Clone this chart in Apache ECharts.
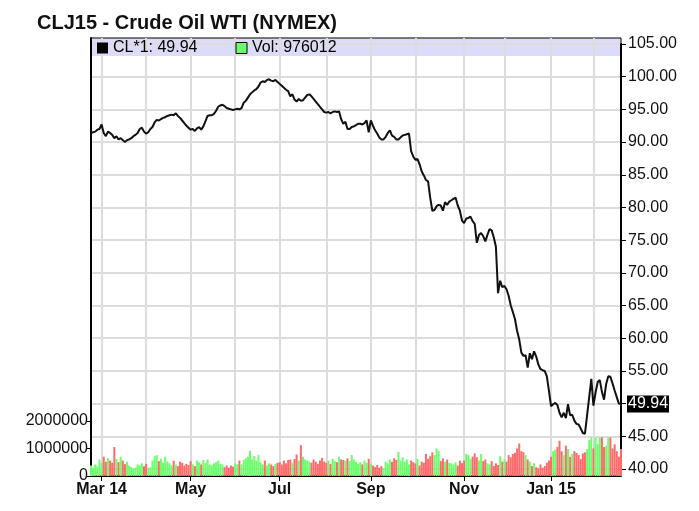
<!DOCTYPE html>
<html>
<head>
<meta charset="utf-8">
<script src="https://cdn.jsdelivr.net/npm/echarts@6/dist/echarts.min.js"></script>
<style>
html, body { margin: 0; padding: 0; background: #fff; }
#chart { width: 699px; height: 511px; }
</style>
</head>
<body>
<div id="chart"></div>
<script>
const title = 'CLJ15 - Crude Oil WTI (NYMEX)'
const firstDay = '2014-02-24'
const lastDay = '2015-02-20'
const holidays = ['2014-04-18', '2014-05-26', '2014-07-04', '2014-09-01', '2014-11-27',
  '2014-12-25', '2015-01-01', '2015-01-19', '2015-02-16']
const monthNames = ['Jan', 'Feb', 'Mar', 'Apr', 'May', 'Jun', 'Jul', 'Aug', 'Sep', 'Oct', 'Nov', 'Dec']
const volumeTicks = [0, 1000000, 2000000]
const lastVolume = 976012

// daily close, one per trading day
const close = [
  91.4, 91.5, 91.6, 91.9, 92.0, 92.7, 91.4, 90.9, 91.6, 91.4,
  91.1, 90.6, 90.9, 90.4, 90.6, 90.3, 90.0, 90.3, 90.4, 90.6,
  90.9, 91.1, 91.4, 92.0, 92.2, 91.6, 91.3, 91.5, 92.0, 92.3,
  93.0, 93.4, 93.3, 93.5, 93.7, 93.8, 94.0, 94.1, 94.2, 94.1,
  94.4, 94.0, 93.7, 93.3, 92.9, 92.5, 92.2, 91.9, 92.0, 91.7,
  92.1, 92.3, 91.9, 92.4, 93.2, 94.0, 94.1, 94.1, 94.3, 94.8,
  95.4, 95.6, 95.7, 95.5, 95.2, 95.1, 95.0, 94.9, 95.0, 95.1,
  95.0, 95.2, 96.0, 96.3, 96.8, 97.3, 97.6, 97.9, 98.1, 98.5,
  99.1, 99.3, 99.2, 99.5, 99.6, 99.4, 99.3, 99.5, 99.2, 98.9,
  98.6, 98.3, 98.0, 97.8, 97.0, 97.3, 96.5, 96.2, 96.6, 96.3,
  96.4, 96.8, 97.2, 97.3, 97.0, 96.6, 96.2, 95.8, 95.4, 95.0,
  94.6, 94.5, 94.6, 94.4, 94.6, 94.7, 94.6, 94.7, 93.5, 92.8,
  93.1, 92.0, 92.0, 92.3, 92.4, 92.6, 92.8, 92.8, 92.7, 92.9,
  93.3, 91.5, 93.3, 92.5, 91.8, 91.3, 90.7, 90.4, 90.4, 90.8,
  91.4, 91.8, 91.0, 90.8, 90.4, 90.4, 90.7, 91.0, 91.1, 91.2,
  91.3, 88.6, 87.8, 87.3, 87.4, 86.6, 85.5, 84.9, 84.2, 84.0,
  81.5, 79.5, 79.6, 80.2, 80.4, 80.3, 79.5, 80.8, 80.4, 80.9,
  81.1, 81.3, 81.5, 80.3, 79.5, 78.0, 77.6, 78.3, 78.4, 78.6,
  77.9, 77.5, 74.6, 75.8, 76.1, 75.6, 74.8, 75.8, 76.7, 76.5,
  75.4, 74.0, 66.9, 68.8, 67.8, 68.0, 67.5, 66.5, 65.0, 64.0,
  62.9, 61.1, 59.8, 57.8, 57.3, 57.4, 55.5, 57.7, 56.8, 58.0,
  57.2, 56.0, 55.3, 55.1, 55.0, 54.2, 52.0, 49.6, 49.9, 50.1,
  49.8, 48.6, 47.9, 48.6, 47.8, 49.9, 48.2, 48.3, 47.4, 46.9,
  46.8, 46.2, 45.5, 45.4, 48.2, 51.0, 53.8, 49.7, 51.7, 53.3,
  53.6, 51.8, 50.6, 53.0, 54.2, 54.1, 53.1, 52.0, 51.0, 50.0,
  49.94,
]

// daily volume, thousands of contracts
const volumeK = [
  380, 300, 420, 350, 600, 480, 700, 520, 650, 560, 480, 1050, 620, 500, 700, 560,
  430, 520, 380, 330, 260, 300, 420, 380, 460, 350,
  440, 280, 320, 560, 720, 760, 540, 620, 480, 700, 530, 460, 380, 560, 420, 360,
  520, 480, 380, 440, 400,
  540, 420, 360, 560, 500, 420, 580, 470, 600, 420, 380, 460, 500, 560, 440, 420,
  320, 380, 300, 380, 340,
  460, 420, 560, 420, 580, 640, 700, 920, 600, 720, 560, 760, 500, 420, 560, 380,
  460, 420, 360, 440, 480,
  500, 420, 560, 460, 580, 600, 480, 620, 780, 560, 1120, 700, 600, 560, 520, 480,
  600, 520, 440, 560, 660, 520,
  480, 560, 440, 620, 540, 500, 700, 600, 580, 560, 640, 540, 760, 600, 520, 440,
  500, 420, 560, 480, 620,
  440, 380, 320, 400, 300, 360, 280, 520, 460, 600, 520, 640, 580, 880, 560, 680,
  520, 600, 420, 560, 500,
  460, 620, 380, 520, 480, 800, 620, 720, 860, 760, 1000, 900, 540, 640, 520, 600,
  480, 460, 420, 500, 380, 560, 460,
  560, 800, 760, 620, 700, 820, 680, 560, 800, 540, 600, 460, 420, 540, 360, 460,
  400, 720, 520,
  600, 520, 760, 680, 800, 840, 1000, 1180, 900, 860, 760, 600, 520, 360, 460, 320,
  280, 420, 300, 360, 480, 560,
  700, 900, 960, 1060, 1280, 900, 760, 1100, 980, 700, 800, 900, 840, 760, 620, 820,
  860, 980, 1300, 1400,
  1000, 1400, 1150, 1400, 1400, 1050, 1100, 1400, 1400, 1000, 1150, 900, 700, 976.012,
]

const upColor = '#6cff6c'
const downColor = '#ff6a6a'
const gridColor = '#dcdcdc'
const font = "'Liberation Sans', Arial, sans-serif"

function tradingDays() {
  const out = []
  const d = new Date(firstDay + 'T00:00:00Z')
  const end = new Date(lastDay + 'T00:00:00Z')
  while (d <= end) {
    const wd = d.getUTCDay()
    const s = d.toISOString().slice(0, 10)
    if (wd !== 0 && wd !== 6 && !holidays.includes(s)) out.push(s)
    d.setUTCDate(d.getUTCDate() + 1)
  }
  return out
}

const dates = tradingDays()
const isMonthStart = i => i > 0 && dates[i].slice(5, 7) !== dates[i - 1].slice(5, 7)
const isLabelDay = i => isMonthStart(i) && (+dates[i].slice(5, 7) - 1) % 2 === 0
const firstLabel = dates.find((d, i) => isLabelDay(i))

const priceName = 'CL*1: ' + close[close.length - 1].toFixed(2)
const volName = 'Vol: ' + lastVolume

const volumeData = volumeK.map((v, i) => ({
  value: v * 1000,
  itemStyle: { color: i === 0 || close[i] >= close[i - 1] ? upColor : downColor },
}))

const chart = echarts.init(document.getElementById('chart'))
chart.setOption({
  animation: false,
  backgroundColor: '#fff',
  textStyle: { fontFamily: font },
  title: {
    text: title,
    left: 32,
    top: 8,
    textStyle: { fontSize: 20, fontWeight: 'bold', color: '#111', fontFamily: font },
  },
  graphic: [{
    type: 'rect',
    z: -10,
    left: 91,
    top: 38,
    shape: { width: 530, height: 18 },
    style: { fill: '#dcdcf8' },
  }],
  legend: {
    left: 92,
    top: 39,
    padding: [1, 5, 1, 5],
    itemWidth: 11,
    itemHeight: 11,
    itemGap: 38,
    textStyle: { fontSize: 16, color: '#000', fontFamily: font },
    data: [
      { name: priceName, icon: 'rect', itemStyle: { color: '#000' } },
      { name: volName, icon: 'rect', itemStyle: { color: upColor, borderColor: '#000', borderWidth: 1 } },
    ],
  },
  grid: [
    { left: 91, right: 78, top: 44, bottom: 42 },
    { left: 91, right: 78, top: 38, bottom: 35, show: true, borderColor: '#000', borderWidth: 1 },
  ],
  xAxis: [
    { type: 'category', gridIndex: 0, data: dates, boundaryGap: false, show: false },
    {
      type: 'category',
      gridIndex: 1,
      data: dates,
      boundaryGap: false,
      axisLine: { lineStyle: { color: '#000', width: 2 } },
      axisTick: { interval: i => isLabelDay(i), length: 5, lineStyle: { color: '#000' } },
      axisLabel: {
        interval: i => isLabelDay(i),
        margin: 6,
        fontSize: 16,
        fontWeight: 'bold',
        color: '#111',
        fontFamily: font,
        formatter: v => {
          const m = +v.slice(5, 7) - 1
          return m === 0 || v === firstLabel ? monthNames[m] + ' ' + v.slice(2, 4) : monthNames[m]
        },
      },
      splitLine: { show: true, interval: i => isMonthStart(i), lineStyle: { color: gridColor, width: 2 } },
    },
  ],
  yAxis: [
    {
      type: 'value',
      gridIndex: 0,
      position: 'right',
      min: 40,
      max: 105,
      interval: 5,
      axisLine: { show: true, lineStyle: { color: '#000', width: 2 } },
      axisTick: { show: true, length: 5, lineStyle: { color: '#000' } },
      axisLabel: { margin: 7, fontSize: 16, color: '#111', fontFamily: font, formatter: v => v.toFixed(2) },
      splitLine: { show: true, lineStyle: { color: gridColor, width: 2 } },
    },
    {
      type: 'value',
      gridIndex: 1,
      position: 'left',
      min: 0,
      max: 15900000,
      axisLine: { show: true, lineStyle: { color: '#000', width: 2 } },
      axisTick: { show: true, length: 5, customValues: volumeTicks, lineStyle: { color: '#000' } },
      axisLabel: {
        margin: 3,
        fontSize: 16,
        color: '#111',
        fontFamily: font,
        customValues: volumeTicks,
        formatter: v => String(v),
      },
      splitLine: { show: false },
    },
  ],
  series: [
    {
      name: volName,
      type: 'bar',
      xAxisIndex: 1,
      yAxisIndex: 1,
      barWidth: 2,
      data: volumeData,
    },
    {
      name: priceName,
      type: 'line',
      xAxisIndex: 0,
      yAxisIndex: 0,
      data: close,
      symbol: 'none',
      lineStyle: { color: '#111', width: 2 },
      itemStyle: { color: '#000' },
      endLabel: {
        show: true,
        distance: 6,
        formatter: p => p.value.toFixed(2),
        backgroundColor: '#000',
        color: '#fff',
        fontSize: 16,
        fontFamily: font,
        padding: [1, 1, 0, 1],
      },
      z: 5,
    },
  ],
})
</script>
</body>
</html>
